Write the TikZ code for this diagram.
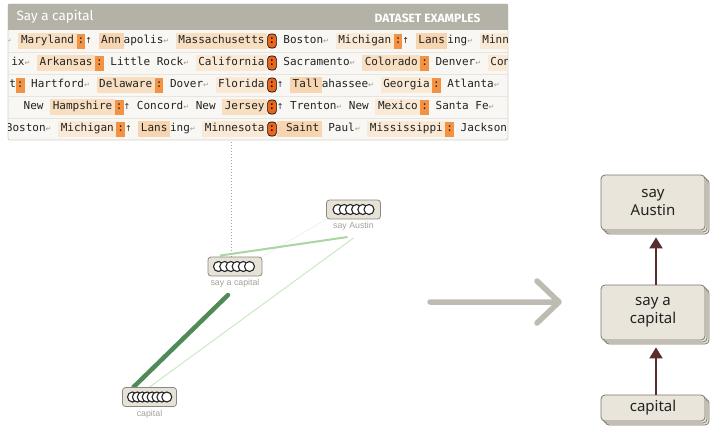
\documentclass[tikz,border=0pt]{standalone}
\usepackage{fontspec}
\usepackage{xcolor}
\usetikzlibrary{positioning,calc,shadows,arrows.meta,backgrounds}
\setmainfont{Noto Sans}
\newfontfamily\tokfont{DejaVu Sans Mono}
\newfontfamily\symfont{DejaVu Sans}
\newfontfamily\headfont{Fira Sans}
\newfontfamily\labfont{Liberation Sans}

\definecolor{headgray}{HTML}{B4B1A7}
\definecolor{panelbg}{HTML}{F8F7F3}
\definecolor{panelline}{HTML}{D3D1C9}
\definecolor{rowline}{HTML}{E7E5DF}
\definecolor{tokink}{HTML}{222222}
\definecolor{tokL}{HTML}{FAE9D5}
\definecolor{tokM}{HTML}{F8DFC2}
\definecolor{tokH}{HTML}{F6D5B0}
\definecolor{colon}{HTML}{F39243}
\definecolor{coldark}{HTML}{E8661E}
\definecolor{retgray}{HTML}{9A9890}
\definecolor{featfill}{HTML}{E6E2D7}
\definecolor{featline}{HTML}{8C887E}
\definecolor{labgray}{HTML}{A3A098}
\definecolor{linkdark}{HTML}{4F8A57}
\definecolor{linklight}{HTML}{A9D6A1}
\definecolor{linkpale}{HTML}{CBE8C4}
\definecolor{linkfaint}{HTML}{EAF4E7}
\definecolor{arrowgray}{HTML}{BEBBB2}
\definecolor{stackfill}{HTML}{E9E5DA}
\definecolor{stackline}{HTML}{7C786E}
\definecolor{edgered}{HTML}{5A2C2C}

% token highlights
\newcommand{\tstrut}{\rule[-2.6pt]{0pt}{10.8pt}}
\newcommand{\hlL}[1]{{\setlength{\fboxsep}{2.6pt}\colorbox{tokL}{\tstrut#1}}}
\newcommand{\hlM}[1]{{\setlength{\fboxsep}{2.6pt}\colorbox{tokM}{\tstrut#1}}}
\newcommand{\hlH}[1]{{\setlength{\fboxsep}{2.6pt}\colorbox{tokH}{\tstrut#1}}}
\newcommand{\cln}{{\setlength{\fboxsep}{1pt}\colorbox{colon}{\strut:}}}
\newcommand{\rtn}{{\symfont\fontsize{7}{8}\selectfont\textcolor{retgray}{↵}}}
\newcommand{\upa}{{\symfont\fontsize{8}{9}\selectfont ↑}}

\tikzset{
  panelbox/.style={draw=panelline, fill=panelbg, rounded corners=2pt, line width=.8pt,
    minimum width=500pt, minimum height=136pt, inner sep=0pt},
  tokrow/.style={inner sep=0pt, font=\tokfont\fontsize{11}{13}\selectfont, text=tokink},
  keycolon/.style={draw=black, line width=.6pt, fill=coldark, rounded corners=3pt,
    inner xsep=1pt, inner ysep=0.5pt, font=\tokfont\fontsize{11}{13}\selectfont},
  featbox/.style={draw=featline, fill=featfill, rounded corners=3pt, line width=.8pt,
    minimum width=54pt, minimum height=19pt, inner sep=0pt},
  featlab/.style={font=\labfont\fontsize{8.8}{10}\selectfont, text=labgray, inner sep=1pt},
  bead/.style={draw=black!85, fill=white, line width=1.1pt},
  stackbox/.style={draw=stackline, fill=stackfill, rounded corners=4pt, line width=.8pt,
    minimum width=104pt, align=center, font=\fontsize{15}{18}\selectfont, text=tokink,
    double copy shadow={shadow xshift=2pt, shadow yshift=-2pt}},
  edge/.style={draw=edgered, line width=2pt, -{Triangle[length=11pt,width=13pt]}},
  bigarrow/.style={draw=arrowgray, line width=5.5pt, line cap=round, line join=round}
}

\begin{document}
\begin{tikzpicture}[x=1pt,y=-1pt]
\useasboundingbox (0,0) rectangle (725,432);

% dataset examples panel
\node[panelbox] (panel) at (258,72) {};
\fill[headgray] ([shift={(0.4pt,-0.4pt)}]panel.north west) rectangle (507.6,30);
\node[anchor=west, text=white, font=\headfont\fontsize{13.5}{15}\selectfont] (title) at (13,17) {Say a capital};
\node[anchor=east, text=white, font=\headfont\bfseries\fontsize{12}{14}\selectfont] (dsx) at (484,18) {DATASET EXAMPLES};
\foreach \yy in {52,74,96,118}
  \draw[rowline, line width=.6pt] (8.5,\yy) -- (507.5,\yy);

\begin{scope}
\clip (8.5,30) rectangle (507.5,139.5);
\node[keycolon] (k1) at (272,41) {\strut:};
\node[tokrow, anchor=base east] (l1) at (k1.base west) {\rtn{} \hlM{Maryland}\cln\upa{} \hlH{Ann}apolis\rtn{} \hlM{Massachusetts}};
\node[tokrow, anchor=base west] (r1) at (k1.base east) {\ Boston\rtn{} \hlL{Michigan}\cln\upa{} \hlH{Lans}ing\rtn{} \hlL{Minnesota}};
\node[keycolon] (k2) at (272,63) {\strut:};
\node[tokrow, anchor=base east] (l2) at (k2.base west) {ix\rtn{} \hlM{Arkansas}\cln\ Little Rock\rtn{} \hlL{California}};
\node[tokrow, anchor=base west] (r2) at (k2.base east) {\ Sacramento\rtn{} \hlM{Colorado}\cln\ Denver\rtn{} \hlL{Connecticut}};
\node[keycolon] (k3) at (272,85) {\strut:};
\node[tokrow, anchor=base east] (l3) at (k3.base west) {t\cln\ Hartford\rtn{} \hlM{Delaware}\cln\ Dover\rtn{} \hlL{Florida}};
\node[tokrow, anchor=base west] (r3) at (k3.base east) {\upa{} \hlH{Tall}ahassee\rtn{} \hlL{Georgia}\cln\ Atlanta\rtn};
\node[keycolon] (k4) at (272,107) {\strut:};
\node[tokrow, anchor=base east] (l4) at (k4.base west) {\ New \hlM{Hampshire}\cln\upa{} Concord\rtn{} New \hlM{Jersey}};
\node[tokrow, anchor=base west] (r4) at (k4.base east) {\upa{} Trenton\rtn{} New \hlL{Mexico}\cln\ Santa Fe\rtn};
\node[keycolon] (k5) at (272,129) {\strut:};
\node[tokrow, anchor=base east] (l5) at (k5.base west) {Boston\rtn{} \hlL{Michigan}\cln\upa{} \hlH{Lans}ing\rtn{} \hlL{Minnesota}};
\node[tokrow, anchor=base west] (r5) at (k5.base east) {\hlH{\ Saint} Paul\rtn{} \hlL{Mississippi}\cln\ Jackson};
\end{scope}

% feature graph
\node[featbox] (gaus) at (353.5,209.5) {};
\node[featlab, below=2pt of gaus] (auslab) {say Austin};
\node[featbox] (gsc) at (235,266.5) {};
\node[featlab, below=2pt of gsc] (gsclab) {say a capital};
\node[featbox] (gcap) at (149.5,397) {};
\node[featlab, below=2pt of gcap] (caplab) {capital};
\foreach \i in {0,...,5}
  \draw[bead] ($(gaus.center)+(\i*6.2-15.5,0)$) circle (5pt);
\foreach \i in {0,...,5}
  \draw[bead] ($(gsc.center)+(\i*6.2-16.5,0)$) circle (5pt);
\foreach \i in {0,...,7}
  \draw[bead] ($(gcap.center)+(\i*4.9-17,0)$) circle (5pt);

\begin{pgfonlayer}{background}
\coordinate (dotend) at ([xshift=-4pt]gsc.north);
\draw[labgray, line width=1pt, dotted] (dotend) -- (dotend |- panel.south);
\draw[linkfaint, line width=.8pt] (gaus.south west) -- (gsc.north east);
\draw[linklight, line width=2pt] ([xshift=-15pt,yshift=1pt]gsc.north) -- ([xshift=-6pt,yshift=-5pt]auslab.south);
\draw[linkpale, line width=1pt] ([yshift=-6pt]auslab.south) -- (gcap.north);
\draw[linkdark, line width=4.5pt, line cap=round] ([xshift=-7pt,yshift=-6pt]gsclab.south) -- ([xshift=-16pt]gcap.north);
\end{pgfonlayer}

% big arrow
\coordinate (arrL) at (430,302);
\coordinate (arrR) at (559,302);
\draw[bigarrow] (arrL) -- (arrR) ($(arrR)+(-22,-21)$) -- (arrR) -- ($(arrR)+(-22,21)$);

% supernode graph
\node[stackbox, minimum height=55pt] (raus) at (653,202.5) {say\\Austin};
\node[stackbox, minimum height=55pt] (rsc) at (653,312.5) {say a\\capital};
\node[stackbox, minimum height=26pt] (rcap) at (653,408) {capital};
\draw[edge] ([xshift=3pt]rcap.north) -- ([xshift=3pt,yshift=-7pt]rsc.south);
\draw[edge] ([xshift=3pt]rsc.north) -- ([xshift=3pt,yshift=-7pt]raus.south);
\end{tikzpicture}
\end{document}
